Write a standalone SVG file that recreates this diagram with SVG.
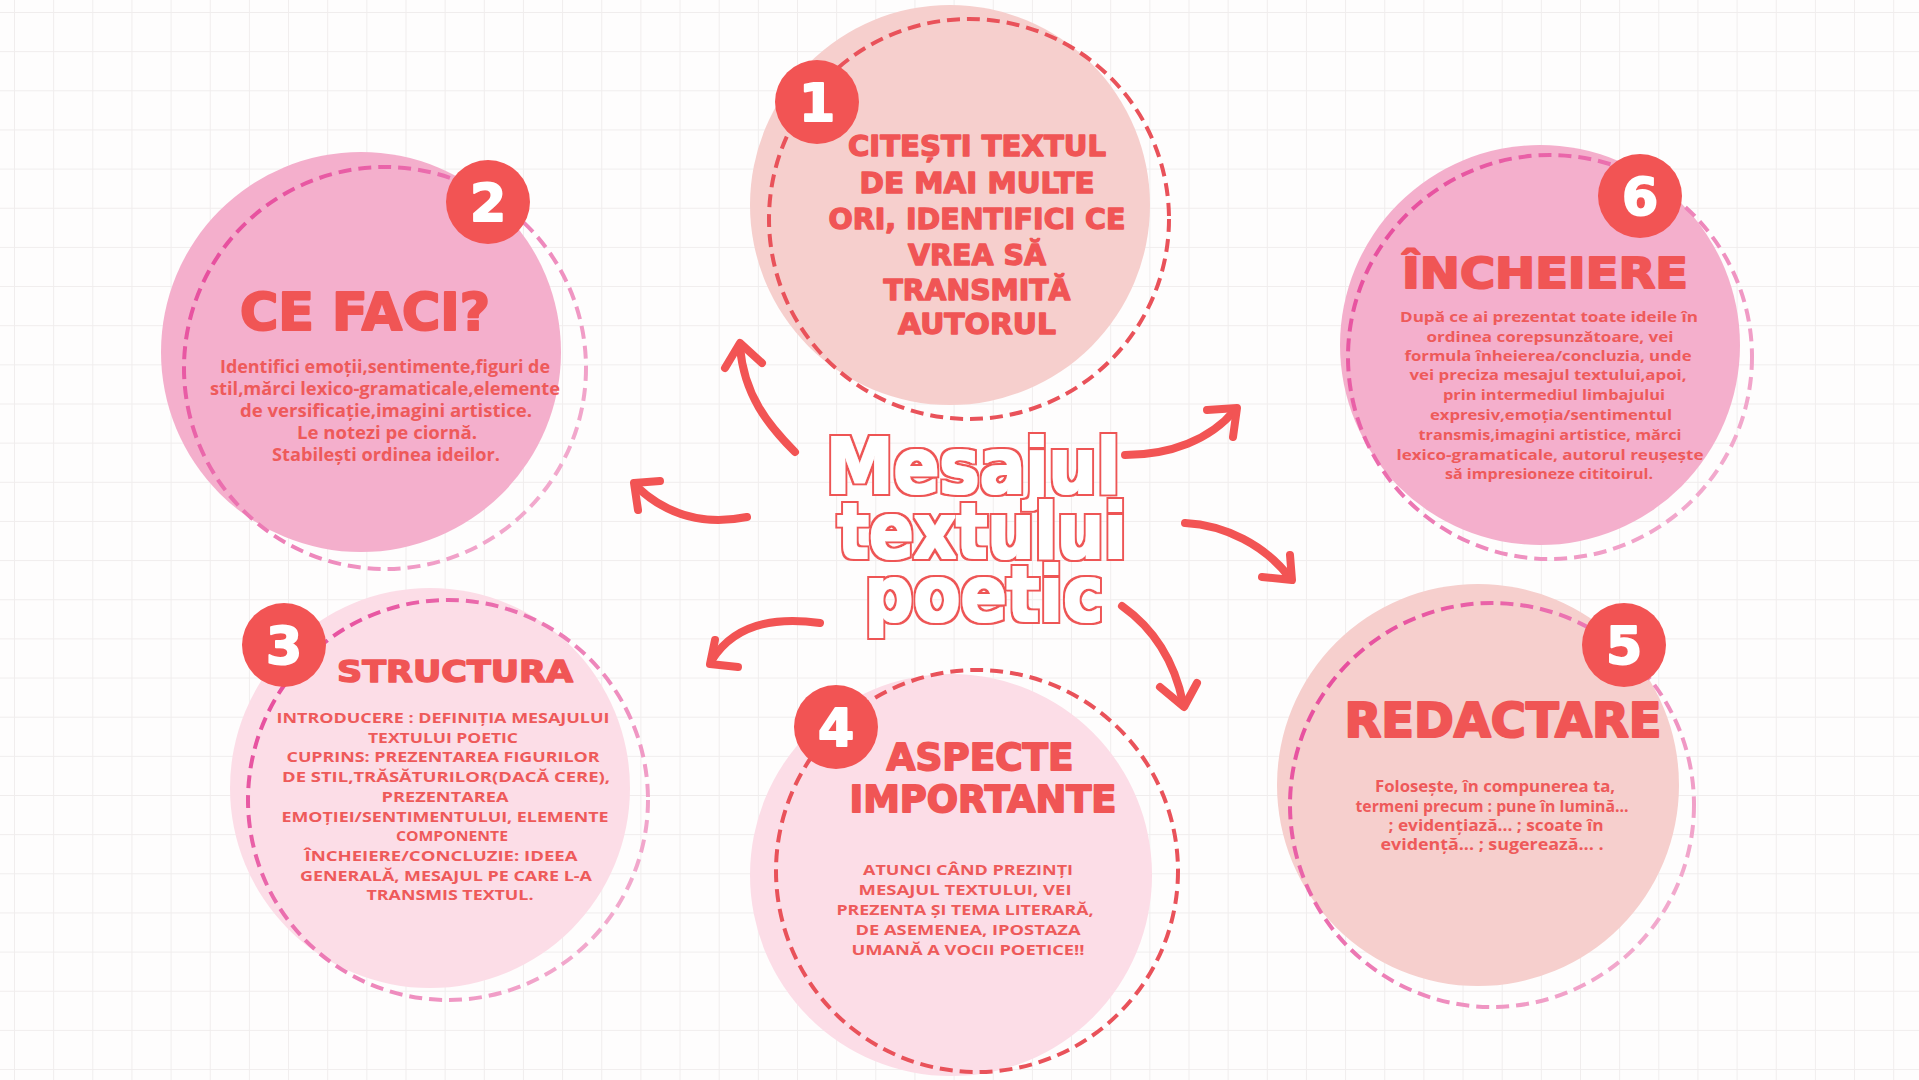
<svg xmlns="http://www.w3.org/2000/svg" width="1919" height="1080" viewBox="0 0 1919 1080">
<defs>
<pattern id="grid" x="14" y="12" width="39.15" height="39.15" patternUnits="userSpaceOnUse">
<path d="M0,0 H39.15 M0,0 V39.15" stroke="#F0EDED" stroke-width="2" fill="none"/>
</pattern>
<linearGradient id="pinkDash" x1="0" y1="0.15" x2="1" y2="0.85">
<stop offset="0" stop-color="#E6479A"/>
<stop offset="1" stop-color="#F3B3D2"/>
</linearGradient>
<filter id="outline" x="-15%" y="-25%" width="130%" height="150%">
<feMorphology in="SourceAlpha" operator="dilate" radius="3.4" result="outer"/>
<feFlood flood-color="#EE5555" result="red"/>
<feComposite in="red" in2="outer" operator="in" result="redOuter"/>
<feMorphology in="SourceAlpha" operator="dilate" radius="0.9" result="inner"/>
<feFlood flood-color="#FFFFFF" result="white"/>
<feComposite in="white" in2="inner" operator="in" result="whiteInner"/>
<feMerge><feMergeNode in="redOuter"/><feMergeNode in="whiteInner"/></feMerge>
</filter>
</defs>
<style>
.fillA{fill:#F6CFCD}
.fillB{fill:#F4AFCC}
.fillC{fill:#FCDDE7}
.dashR{fill:none;stroke:#E9525A;stroke-width:4;stroke-dasharray:13 7}
.dashP{fill:none;stroke:url(#pinkDash);stroke-width:4;stroke-dasharray:13 7}
.badge{fill:#F25454}
.num{font-family:"DejaVu Sans","Liberation Sans",sans-serif;font-weight:bold;font-size:52px;fill:#FFFFFF;stroke:#FFFFFF;stroke-width:2;stroke-linejoin:round;text-anchor:middle}
.h{font-family:"DejaVu Sans","Liberation Sans",sans-serif;font-weight:bold;fill:#F05555;stroke:#F05555;stroke-linejoin:round;text-anchor:middle}
.b{font-family:"Open Sans","Noto Sans",sans-serif;font-weight:700;fill:#EE5A5A;text-anchor:middle}
.t{font-family:"DejaVu Sans","Liberation Sans",sans-serif;font-weight:bold;font-size:76px;fill:#FFFFFF;text-anchor:middle;filter:url(#outline)}
.arr{fill:none;stroke:#F25454;stroke-width:8;stroke-linecap:round;stroke-linejoin:round}
</style>
<rect width="1919" height="1080" fill="#FEFDFD"/>
<rect width="1919" height="1080" fill="url(#grid)"/>

<g id="node-1">
<circle class="fillA" cx="950" cy="205" r="200"/>
<circle class="dashR" cx="969" cy="219" r="200"/>
<circle class="badge" cx="817" cy="102" r="42"/>
<text class="num" x="817" y="121">1</text>
<g class="h" font-size="29" stroke-width="1.4">
<text x="977" y="156" textLength="258" lengthAdjust="spacingAndGlyphs">CITEȘTI TEXTUL</text>
<text x="977" y="193" textLength="235" lengthAdjust="spacingAndGlyphs">DE MAI MULTE</text>
<text x="977" y="229" textLength="297" lengthAdjust="spacingAndGlyphs">ORI, IDENTIFICI CE</text>
<text x="977" y="265" textLength="138" lengthAdjust="spacingAndGlyphs">VREA SĂ</text>
<text x="977" y="300" textLength="187" lengthAdjust="spacingAndGlyphs">TRANSMITĂ</text>
<text x="977" y="334" textLength="158" lengthAdjust="spacingAndGlyphs">AUTORUL</text>
</g>
</g>

<g id="node-2">
<circle class="fillB" cx="361" cy="352" r="200"/>
<circle class="dashP" cx="385" cy="368" r="201"/>
<circle class="badge" cx="488" cy="202" r="42"/>
<text class="num" x="488" y="221">2</text>
<text class="h" x="365" y="330" font-size="51" stroke-width="2.2" textLength="250" lengthAdjust="spacingAndGlyphs">CE FACI?</text>
<g class="b" font-size="17">
<text x="385" y="373" textLength="330" lengthAdjust="spacingAndGlyphs">Identifici emoții,sentimente,figuri de</text>
<text x="385" y="395" textLength="350" lengthAdjust="spacingAndGlyphs">stil,mărci lexico-gramaticale,elemente</text>
<text x="386" y="417" textLength="292" lengthAdjust="spacingAndGlyphs">de versificație,imagini artistice.</text>
<text x="387" y="439" textLength="180" lengthAdjust="spacingAndGlyphs">Le notezi pe ciornă.</text>
<text x="386" y="461" textLength="228" lengthAdjust="spacingAndGlyphs">Stabilești ordinea ideilor.</text>
</g>
</g>

<g id="node-6">
<circle class="fillB" cx="1540" cy="345" r="200"/>
<circle class="dashP" cx="1550" cy="357" r="202"/>
<circle class="badge" cx="1640" cy="196" r="42"/>
<text class="num" x="1640" y="215">6</text>
<text class="h" x="1545" y="288" font-size="43" stroke-width="2" textLength="286" lengthAdjust="spacingAndGlyphs">ÎNCHEIERE</text>
<g class="b" font-size="15">
<text x="1549" y="322" textLength="298" lengthAdjust="spacingAndGlyphs">După ce ai prezentat toate ideile în</text>
<text x="1550" y="342" textLength="247" lengthAdjust="spacingAndGlyphs">ordinea corepsunzătoare, vei</text>
<text x="1548" y="361" textLength="287" lengthAdjust="spacingAndGlyphs">formula înheierea/concluzia, unde</text>
<text x="1548" y="380" textLength="277" lengthAdjust="spacingAndGlyphs">vei preciza mesajul textului,apoi,</text>
<text x="1554" y="400" textLength="222" lengthAdjust="spacingAndGlyphs">prin intermediul limbajului</text>
<text x="1551" y="420" textLength="242" lengthAdjust="spacingAndGlyphs">expresiv,emoția/sentimentul</text>
<text x="1550" y="440" textLength="263" lengthAdjust="spacingAndGlyphs">transmis,imagini artistice, mărci</text>
<text x="1550" y="460" textLength="307" lengthAdjust="spacingAndGlyphs">lexico-gramaticale, autorul reușește</text>
<text x="1549" y="479" textLength="208" lengthAdjust="spacingAndGlyphs">să impresioneze cititoirul.</text>
</g>
</g>

<g id="node-3">
<circle class="fillC" cx="430" cy="788" r="200"/>
<circle class="dashP" cx="448" cy="800" r="200"/>
<circle class="badge" cx="284" cy="645" r="42"/>
<text class="num" x="284" y="664">3</text>
<text class="h" x="455" y="682" font-size="31" stroke-width="1.5" textLength="236" lengthAdjust="spacingAndGlyphs">STRUCTURA</text>
<g class="b" font-size="15">
<text x="443" y="723" textLength="333" lengthAdjust="spacingAndGlyphs">INTRODUCERE : DEFINIȚIA MESAJULUI</text>
<text x="443" y="742.7" textLength="150" lengthAdjust="spacingAndGlyphs">TEXTULUI POETIC</text>
<text x="443" y="762.4" textLength="313" lengthAdjust="spacingAndGlyphs">CUPRINS: PREZENTAREA FIGURILOR</text>
<text x="446" y="782.1" textLength="328" lengthAdjust="spacingAndGlyphs">DE STIL,TRĂSĂTURILOR(DACĂ CERE),</text>
<text x="445" y="801.8" textLength="127" lengthAdjust="spacingAndGlyphs">PREZENTAREA</text>
<text x="445" y="821.5" textLength="327" lengthAdjust="spacingAndGlyphs">EMOȚIEI/SENTIMENTULUI, ELEMENTE</text>
<text x="452" y="841.2" textLength="112" lengthAdjust="spacingAndGlyphs">COMPONENTE</text>
<text x="441" y="860.9" textLength="273" lengthAdjust="spacingAndGlyphs">ÎNCHEIERE/CONCLUZIE: IDEEA</text>
<text x="446" y="880.6" textLength="292" lengthAdjust="spacingAndGlyphs">GENERALĂ, MESAJUL PE CARE L-A</text>
<text x="450" y="900.3" textLength="167" lengthAdjust="spacingAndGlyphs">TRANSMIS TEXTUL.</text>
</g>
</g>

<g id="node-4">
<circle class="fillC" cx="951" cy="875" r="201"/>
<circle class="dashR" cx="977" cy="871" r="201"/>
<circle class="badge" cx="836" cy="727" r="42"/>
<text class="num" x="836" y="746">4</text>
<text class="h" x="980" y="770" font-size="38" stroke-width="1.8" textLength="187" lengthAdjust="spacingAndGlyphs">ASPECTE</text>
<text class="h" x="983" y="812" font-size="38" stroke-width="1.8" textLength="267" lengthAdjust="spacingAndGlyphs">IMPORTANTE</text>
<g class="b" font-size="15">
<text x="968" y="875" textLength="210" lengthAdjust="spacingAndGlyphs">ATUNCI CÂND PREZINȚI</text>
<text x="965" y="895" textLength="213" lengthAdjust="spacingAndGlyphs">MESAJUL TEXTULUI, VEI</text>
<text x="965" y="915" textLength="257" lengthAdjust="spacingAndGlyphs">PREZENTA ȘI TEMA LITERARĂ,</text>
<text x="968" y="935" textLength="225" lengthAdjust="spacingAndGlyphs">DE ASEMENEA, IPOSTAZA</text>
<text x="968" y="955" textLength="233" lengthAdjust="spacingAndGlyphs">UMANĂ A VOCII POETICE!!</text>
</g>
</g>

<g id="node-5">
<circle class="fillA" cx="1478" cy="785" r="201"/>
<circle class="dashP" cx="1492" cy="805" r="202"/>
<circle class="badge" cx="1624" cy="645" r="42"/>
<text class="num" x="1624" y="664">5</text>
<text class="h" x="1503" y="737" font-size="48" stroke-width="2.2" textLength="317" lengthAdjust="spacingAndGlyphs">REDACTARE</text>
<g class="b" font-size="16">
<text x="1495" y="792" textLength="240" lengthAdjust="spacingAndGlyphs">Folosește, în compunerea ta,</text>
<text x="1492" y="812" textLength="273" lengthAdjust="spacingAndGlyphs">termeni precum : pune în lumină...</text>
<text x="1496" y="831" textLength="215" lengthAdjust="spacingAndGlyphs">; evidențiază... ; scoate în</text>
<text x="1492" y="850" textLength="223" lengthAdjust="spacingAndGlyphs">evidență... ; sugerează... .</text>
</g>
</g>

<g id="title">
<text class="t" x="973" y="493" textLength="294" lengthAdjust="spacingAndGlyphs">Mesajul</text>
<text class="t" x="982" y="558" textLength="289" lengthAdjust="spacingAndGlyphs">textului</text>
<text class="t" x="984" y="621" textLength="239" lengthAdjust="spacingAndGlyphs">poetic</text>
</g>

<g id="connectors">
<path class="arr" d="M795,452 C768,425 744,395 740,347"/>
<path class="arr" d="M725,368 L740,343 L762,363"/>
<path class="arr" d="M747,517 Q682,530 636,486"/>
<path class="arr" d="M660,481 L634,483 L638,510"/>
<path class="arr" d="M820,623 Q742,612 712,660"/>
<path class="arr" d="M715,640 L710,664 L738,667"/>
<path class="arr" d="M1122,606 Q1170,640 1183,703"/>
<path class="arr" d="M1160,687 L1184,707 L1197,683"/>
<path class="arr" d="M1185,523 C1225,525 1265,545 1290,578"/>
<path class="arr" d="M1262,577 L1292,580 L1290,555"/>
<path class="arr" d="M1125,455 C1170,455 1210,440 1235,410"/>
<path class="arr" d="M1207,410 L1237,408 L1233,437"/>
</g>
</svg>
